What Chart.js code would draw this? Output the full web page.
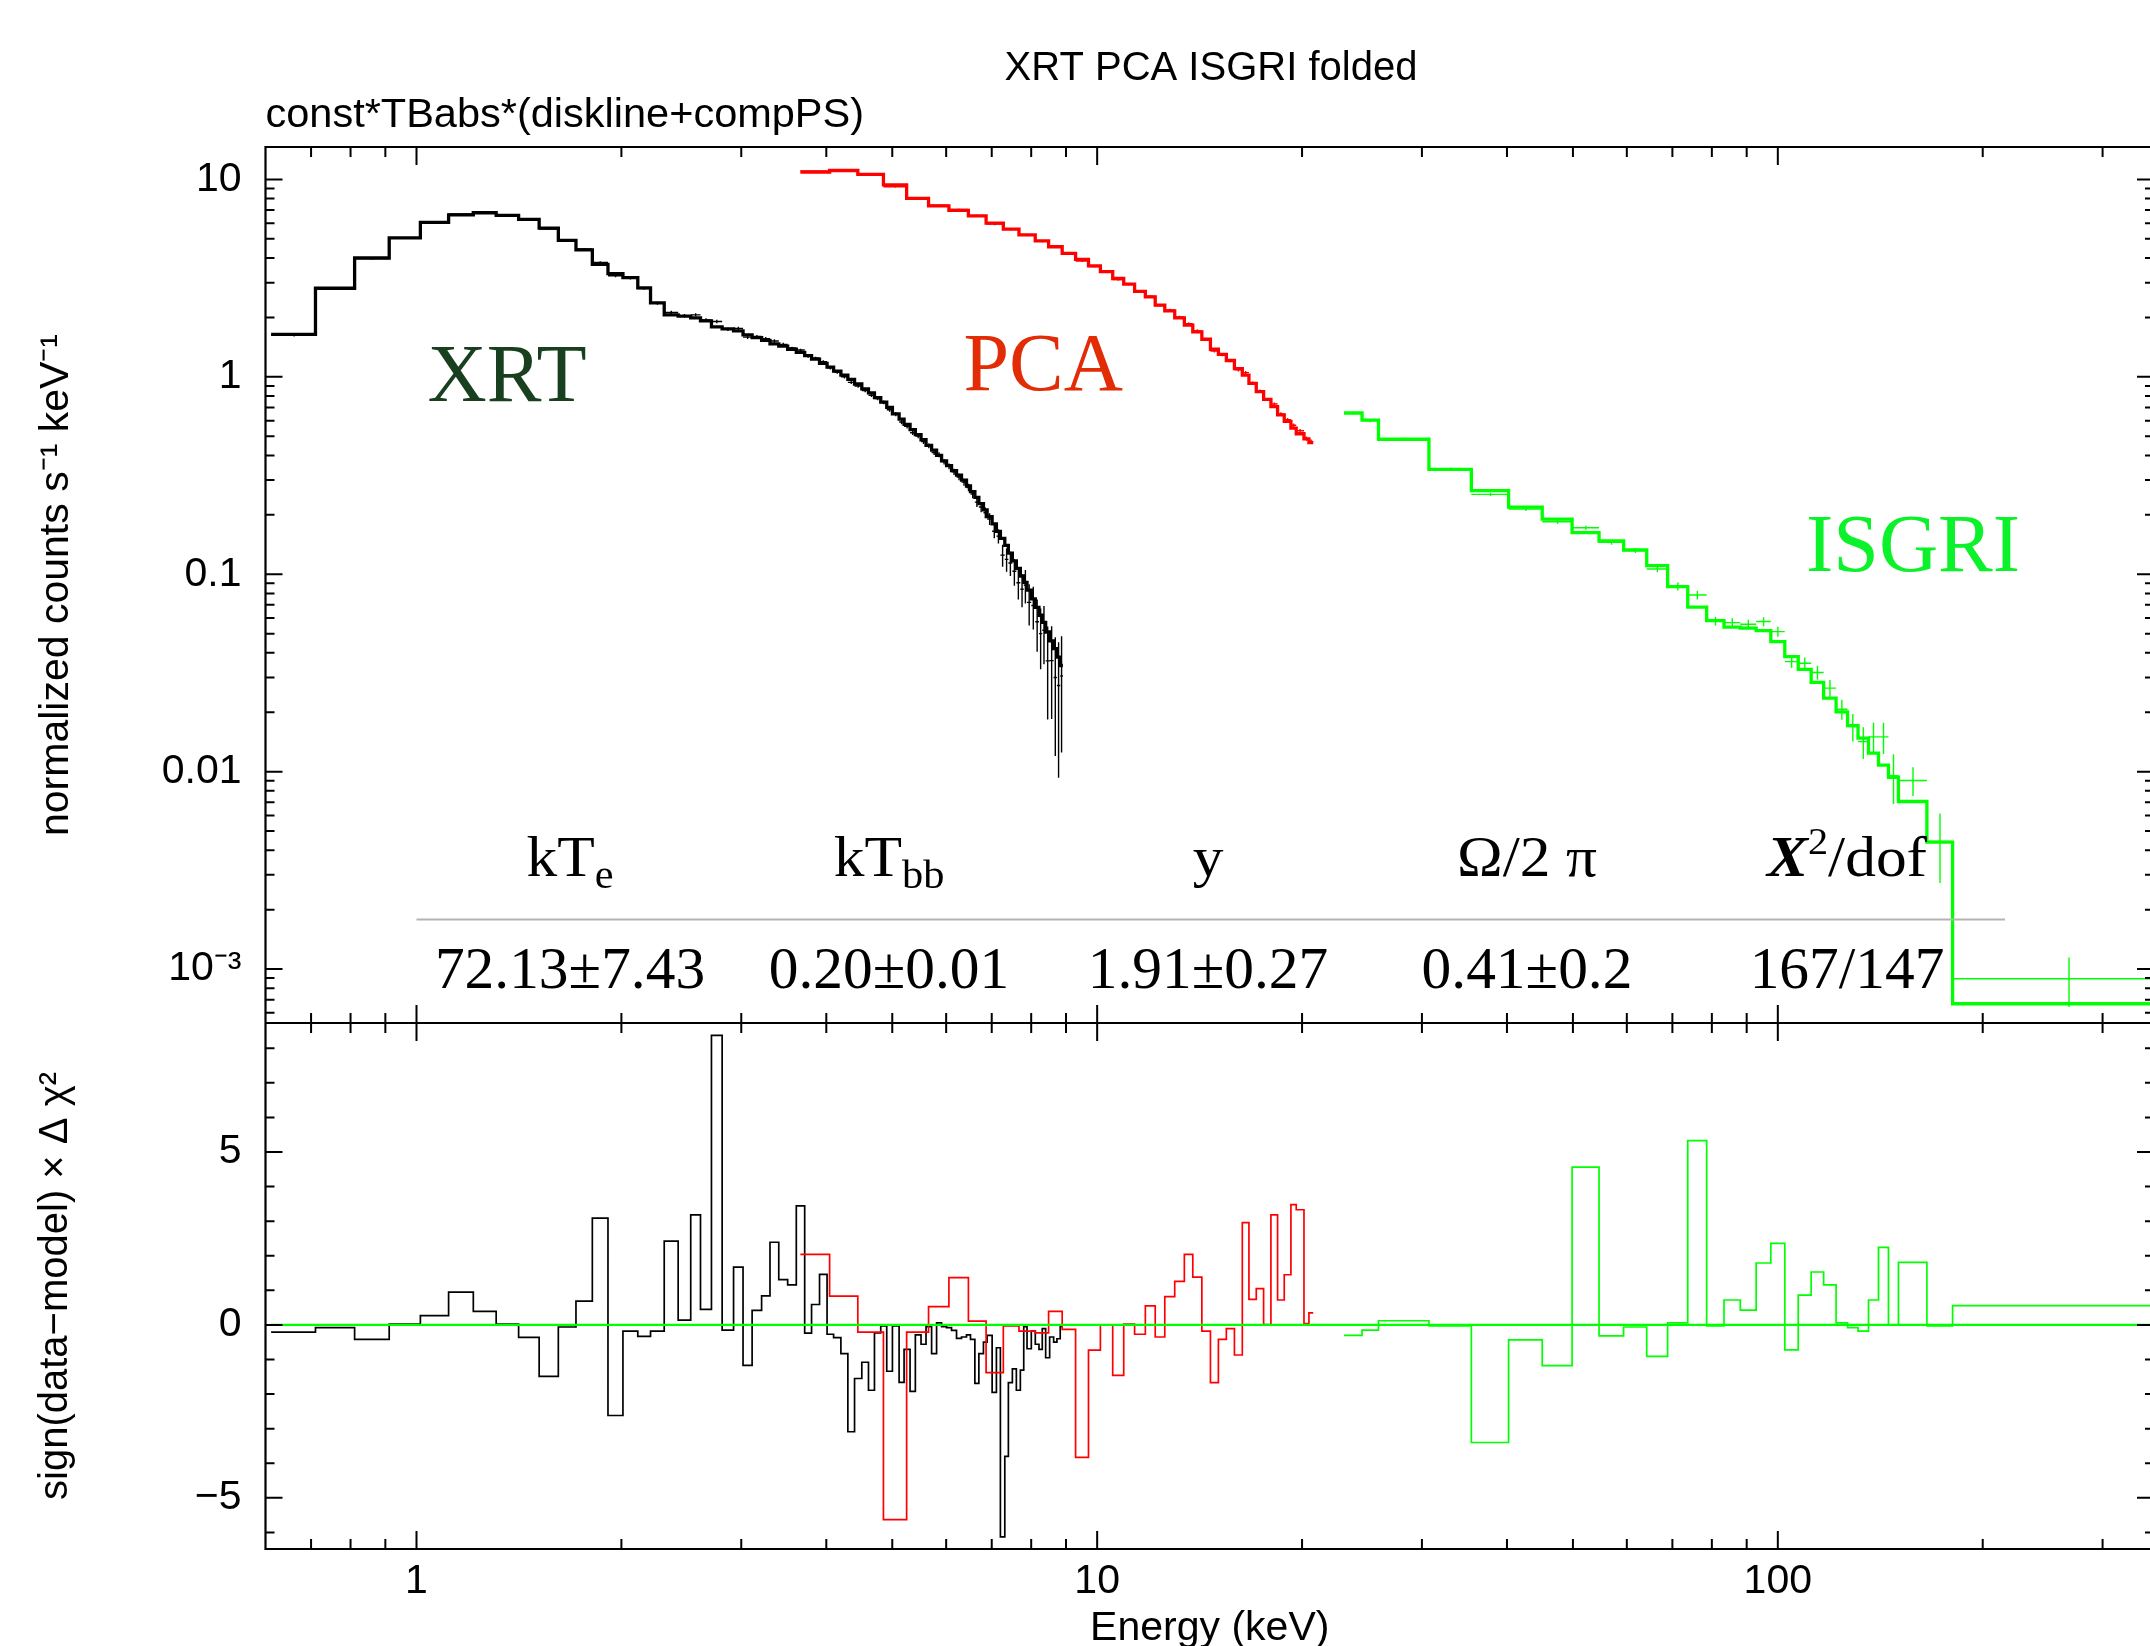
<!DOCTYPE html>
<html>
<head>
<meta charset="utf-8">
<script src="https://cdn.jsdelivr.net/npm/chart.js@4.4.1/dist/chart.umd.min.js"></script>
<style>
html,body{margin:0;padding:0;background:#fff;overflow:hidden;width:2150px;height:1646px;}
#wrap{position:absolute;left:0;top:0;width:2160px;height:1646px;}
canvas{display:block;}
</style>
</head>
<body>
<div id="wrap"><canvas id="c" width="2160" height="1646"></canvas></div>
<script>
// ---------------- DATA ----------------
const plotTitle = 'XRT PCA ISGRI folded';
const modelTitle = 'const*TBabs*(diskline+compPS)';
const xTitle = 'Energy (keV)';
const yTitleUpper = 'normalized counts s\u207B\u00B9 keV\u207B\u00B9';
const yTitleLower = 'sign(data\u2212model) \u00D7 \u0394 \u03C7\u00B2';
const instrumentNames = ['XRT', 'PCA', 'ISGRI'];

// XRT (Swift) bins, keV
const xrtEdges = [0.6115,0.7105,0.8111,0.9118,1.0132,1.1147,1.2119,1.3093,1.4126,1.5142,1.6157,1.7151,1.8127,1.9112,2.0104,2.1140,2.2071,2.3117,2.4234,2.5285,2.6136,2.7123,2.8120,2.9229,3.0181,3.1122,3.2137,3.3062,3.4058,3.5098,3.6140,3.7179,3.8054,3.9095,4.0104,4.1000,4.2024,4.3026,4.4010,4.5104,4.6135,4.7078,4.8089,4.9073,5.0026,5.1170,5.2039,5.3103,5.4061,5.5111,5.6048,5.7117,5.8088,5.9076,6.0081,6.1103,6.2142,6.3199,6.4274,6.5147,6.6121,6.7019,6.8068,6.8922,7.0094,7.1118,7.2084,7.3164,7.4057,7.5062,7.6082,7.7115,7.8004,7.8879,8.0030,8.1117,8.2135,8.3054,8.4011,8.5152,8.6308,8.7275,8.8252,8.9058];
const xrtModel = [1.64,2.81,4.00,5.06,6.06,6.62,6.78,6.57,6.27,5.67,4.91,4.40,3.71,3.33,3.18,2.82,2.37,2.06,2.03,1.99,1.92,1.79,1.75,1.71,1.63,1.58,1.53,1.47,1.43,
  1.38,1.33,1.28,1.23,1.17,1.12,1.07,1.02,0.97,0.92,0.87,0.83,0.785,0.745,0.70,0.65,0.61,0.575,0.54,0.51,0.48,0.45,0.425,0.40,0.375,0.355,0.335,0.318,0.300,0.280,0.262,
  0.245,0.228,0.212,0.196,0.180,0.165,0.152,0.140,0.128,0.117,0.107,0.098,0.091,0.083,0.075,0.068,0.062,0.057,0.051,0.046,0.042,0.038,0.0345];
const xrtData = [1.63,2.80,3.97,5.06,6.09,6.68,6.82,6.57,6.23,5.60,4.90,4.44,3.80,3.25,3.16,2.80,2.36,2.12,2.04,2.06,1.94,1.906,1.74,1.76,1.59,1.60,1.56,1.52,1.46,
  1.40,1.367,1.27,1.245,1.194,1.11,1.058,1.002,0.938,0.898,0.852,0.807,0.777,0.742,0.681,0.647,0.591,0.562,0.521,0.502,0.470,0.447,0.414,0.403,0.372,0.352,0.330,0.311,0.293,0.275,0.255,
  0.232,0.219,0.205,0.1905,0.165,0.156,0.125,0.119,0.114,0.1035,0.0905,0.084,0.088,0.072,0.0695,0.0575,0.050,0.052,0.0364,0.0365,0.030,0.0273,0.0305];
const xrtErr = [0.03,0.04,0.05,0.05,0.06,0.06,0.06,0.06,0.06,0.055,0.05,0.05,0.05,0.05,0.045,0.04,0.04,0.04,0.04,0.04,0.04,0.04,0.035,0.035,0.035,0.03,0.03,0.03,0.03,
  0.02,0.02,0.02,0.02,0.02,0.02,0.02,0.02,0.018,0.018,0.017,0.017,0.017,0.016,0.016,0.016,0.015,0.015,0.014,0.014,0.013,0.012,0.012,0.012,0.012,0.012,0.012,0.012,0.012,0.012,0.012,
  0.013,0.013,0.013,0.013,0.013,0.013,0.016,0.016,0.016,0.016,0.016,0.016,0.017,0.017,0.017,0.017,0.017,0.017,0.018,0.018,0.018,0.018,0.018];
const xrtResid = [-0.21,-0.08,-0.42,0.02,0.27,0.95,0.39,0.02,-0.36,-1.49,-0.06,0.69,3.09,-2.62,-0.18,-0.33,-0.18,2.42,0.14,3.18,0.45,8.37,-0.15,1.67,-1.17,0.42,0.84,2.39,1.31,
  1.16,3.44,-0.24,0.59,1.46,-0.27,-0.37,-0.83,-3.09,-1.55,-1.08,-1.89,-0.23,-0.03,-1.34,-0.03,-1.66,-0.71,-1.92,-0.29,-0.56,-0.05,-0.83,0.06,-0.05,-0.08,-0.16,-0.39,-0.35,-0.29,-0.42,
  -1.69,-0.83,-0.50,-0.30,-1.95,-0.66,-6.13,-3.80,-1.67,-1.27,-1.89,-1.31,-0.05,-0.69,-0.18,-0.56,-0.71,-0.11,-0.95,-0.35,-0.50,-0.40,-0.05];

// PCA (RXTE) bins, keV
const pcaEdges = [3.664,4.045,4.450,4.853,5.249,5.653,6.056,6.469,6.868,7.280,7.676,8.110,8.485,8.884,9.296,9.711,10.11,10.54,10.94,11.35,11.77,12.17,12.57,13.00,13.43,13.82,14.25,14.67,15.07,15.48,15.91,16.34,16.71,17.13,17.56,18.00,18.41,18.83,19.26,19.61,20.13,20.47,20.77];
const pcaModel = [10.9,11.1,10.6,9.39,8.01,7.35,6.97,6.54,6.01,5.60,5.24,4.89,4.56,4.22,3.94,3.65,3.41,3.15,2.95,2.71,2.54,2.31,2.16,1.99,1.83,1.69,1.55,1.38,1.30,1.21,1.10,1.02,0.927,0.841,0.769,0.706,0.641,0.595,0.55,0.515,0.485,0.465];
const pcaData = [11.04,11.19,10.55,9.18,7.97,7.40,7.05,6.56,5.94,5.59,5.22,4.87,4.59,4.21,3.86,3.62,3.41,3.11,2.95,2.70,2.56,2.30,2.18,2.01,1.86,1.71,1.54,1.35,1.29,1.205,1.085,1.05,0.935,0.852,0.769,0.729,0.649,0.607,0.569,0.533,0.486,0.469];
const pcaErr = [0.1,0.1,0.1,0.1,0.1,0.08,0.08,0.08,0.08,0.08,0.06,0.06,0.06,0.06,0.04,0.04,0.04,0.04,0.04,0.04,0.03,0.03,0.03,0.03,0.03,0.03,0.02,0.02,0.02,0.02,0.02,0.02,0.012,0.012,0.012,0.012,0.012,0.012,0.012,0.012,0.012,0.012];
const pcaResid = [2.04,0.83,-0.21,-5.63,-0.21,0.53,1.37,0.11,-1.38,-0.03,-0.18,-0.23,0.39,-0.13,-3.83,-0.73,-0.01,-1.46,0.02,-0.27,0.55,-0.35,0.82,1.26,2.04,1.38,-0.18,-1.67,-0.42,-0.11,-0.87,2.96,0.74,1.05,0.01,3.18,0.72,1.45,3.48,3.33,0.04,0.35];

// ISGRI (INTEGRAL) bins, keV
const isgriEdges = [23.05,24.50,25.90,30.72,35.46,40.22,45.07,49.86,54.62,59.35,64.18,68.88,73.73,78.61,83.36,88.08,92.93,97.66,102.39,107.15,111.94,116.77,121.79,126.60,131.17,135.90,140.57,145.40,150.39,165.58,180.62,355];
const isgriModel = [0.656,0.604,0.483,0.340,0.265,0.219,0.190,0.1624,0.1474,0.1327,0.1105,0.0866,0.0681,0.0582,0.0540,0.0533,0.0518,0.0456,0.0383,0.0330,0.0283,0.0236,0.0201,0.0171,0.0148,0.0124,0.0108,0.00937,0.00706,0.00440,0.000667];
const isgriData = [0.656,0.600,0.485,0.342,0.254,0.214,0.1846,0.172,0.145,0.132,0.1064,0.0868,0.0785,0.058,0.0569,0.0558,0.0576,0.0512,0.0361,0.0354,0.0318,0.0265,0.0207,0.0169,0.0142,0.0150,0.0150,0.00955,0.00902,0.00443,0.000893];
const isgriErr = [0.012,0.012,0.006,0.005,0.005,0.005,0.005,0.004,0.004,0.004,0.004,0.004,0.004,0.003,0.003,0.003,0.003,0.003,0.0025,0.0025,0.0026,0.0026,0.0024,0.0027,0.0026,0.0027,0.0027,0.0027,0.0015,0.0017,0.00025];
const isgriResid = [-0.30,-0.15,0.12,-0.03,-3.40,-0.43,-1.18,4.56,-0.32,-0.06,-0.91,0.06,5.33,-0.03,0.72,0.43,1.79,2.36,-0.72,0.86,1.53,1.16,0.06,-0.08,-0.18,0.72,2.24,0.0,1.81,-0.03,0.56];

const residualZero = 0;

// Axis ranges and ticks
const xMin = 0.6115, xMax = 357;
const yMin = 5.33e-4, yMax = 14.6;
const rMin = -6.48, rMax = 8.73;
const xMajorTicks = [1, 10, 100];
const xMajorLabels = ['1', '10', '100'];
const xMinorTicks = [0.7,0.8,0.9,2,3,4,5,6,7,8,9,20,30,40,50,60,70,80,90,200,300];
const yMajorTicks = [0.001, 0.01, 0.1, 1, 10];
const yMajorLabels = ['10\u207B\u00B3', '0.01', '0.1', '1', '10'];
const yMinorTicks = [6e-4,7e-4,8e-4,9e-4,2e-3,3e-3,4e-3,5e-3,6e-3,7e-3,8e-3,9e-3,0.02,0.03,0.04,0.05,0.06,0.07,0.08,0.09,0.2,0.3,0.4,0.5,0.6,0.7,0.8,0.9,2,3,4,5,6,7,8,9];
const rMajorTicks = [-5, 0, 5];
const rMajorLabels = ['\u22125', '0', '5'];
const rMinorTicks = [-6,-4,-3,-2,-1,1,2,3,4,6,7,8];

// Fit-parameter table
const headerMain = ['kT', 'kT', 'y', '\u03A9/2 \u03C0', 'X'];
const headerSub  = ['e', 'bb', '', '', ''];
const headerSup  = ['', '', '', '', '2'];
const headerTail = ['', '', '', '', '/dof'];
const paramValues = ['72.13\u00B17.43', '0.20\u00B10.01', '1.91\u00B10.27', '0.41\u00B10.2', '167/147'];

// ---------------- LAYOUT / STYLE ----------------
const SANS = "'Liberation Sans', Arial, Helvetica, sans-serif";
const SERIF = "'Liberation Serif', 'Times New Roman', serif";
const COL_XRT = '#000000', COL_PCA = '#ff0000', COL_ISGRI = '#00ff00';
const labelColors = ['#183f1e', '#e22c06', '#0cf22a'];
const labelPos = [[1.038, 0.754], [6.36, 0.857], [110.0, 0.1039]];
const tableCols = [570, 889, 1208, 1527, 1847];

function steps(edges, vals) {
  const pts = [];
  for (let i = 0; i < vals.length; i++) {
    pts.push({x: edges[i], y: vals[i]});
    pts.push({x: edges[i + 1], y: vals[i]});
  }
  return pts;
}
function labelFor(v, ticks, labels) {
  for (let i = 0; i < ticks.length; i++) {
    if (Math.abs(v - ticks[i]) <= Math.abs(ticks[i]) * 1e-6 + 1e-12) return labels[i];
  }
  return '';
}

const lineDs = (label, data, color, width, axis, order) => ({
  label, data, borderColor: color, backgroundColor: color, borderWidth: width,
  showLine: true, pointRadius: 0, tension: 0, yAxisID: axis, order,
  borderJoinStyle: 'miter', fill: false
});

const crossesPlugin = {
  id: 'crosses',
  afterDatasetsDraw(chart) {
    const ctx = chart.ctx, xs = chart.scales.x, ys = chart.scales.y;
    const ca = chart.chartArea;
    ctx.save();
    ctx.beginPath();
    ctx.rect(ca.left, ys.top, ca.right - ca.left, ys.bottom - ys.top);
    ctx.clip();
    const sets = [[xrtEdges, xrtData, xrtErr, COL_XRT], [pcaEdges, pcaData, pcaErr, COL_PCA], [isgriEdges, isgriData, isgriErr, COL_ISGRI]];
    for (const [edges, data, err, col] of sets) {
      ctx.strokeStyle = col;
      ctx.lineWidth = 1.4;
      ctx.beginPath();
      for (let i = 0; i < data.length; i++) {
        const x0 = xs.getPixelForValue(edges[i]);
        const x1 = xs.getPixelForValue(edges[i + 1]);
        const xc = xs.getPixelForValue((edges[i] + edges[i + 1]) / 2);
        const yv = ys.getPixelForValue(data[i]);
        ctx.moveTo(x0, yv); ctx.lineTo(x1, yv);
        const lo = Math.max(data[i] - err[i], yMin * 0.5);
        ctx.moveTo(xc, ys.getPixelForValue(data[i] + err[i]));
        ctx.lineTo(xc, ys.getPixelForValue(lo));
      }
      ctx.stroke();
    }
    ctx.restore();
  }
};

const framePlugin = {
  id: 'frame',
  afterDatasetsDraw(chart) {
    const ctx = chart.ctx, xs = chart.scales.x, ys = chart.scales.y, rs = chart.scales.yr;
    const L = chart.chartArea.left, R = chart.chartArea.right;
    ctx.save();
    ctx.strokeStyle = '#000';
    ctx.lineWidth = 2.2;
    ctx.lineCap = 'butt';
    ctx.beginPath();
    ctx.rect(L, ys.top, R - L, ys.bottom - ys.top);
    ctx.rect(L, rs.top, R - L, rs.bottom - rs.top);
    ctx.stroke();
    ctx.lineWidth = 2;
    ctx.beginPath();
    const xt = (v, len) => {
      const p = xs.getPixelForValue(v);
      ctx.moveTo(p, ys.top); ctx.lineTo(p, ys.top + len);
      ctx.moveTo(p, ys.bottom); ctx.lineTo(p, ys.bottom - len);
      ctx.moveTo(p, rs.top); ctx.lineTo(p, rs.top + len);
      ctx.moveTo(p, rs.bottom); ctx.lineTo(p, rs.bottom - len);
    };
    xMajorTicks.forEach(v => xt(v, 18));
    xMinorTicks.forEach(v => xt(v, 10));
    const yt = (sc, v, len) => {
      const p = sc.getPixelForValue(v);
      ctx.moveTo(L, p); ctx.lineTo(L + len, p);
      ctx.moveTo(R, p); ctx.lineTo(R - len, p);
    };
    yMajorTicks.forEach(v => yt(ys, v, 17));
    yMinorTicks.forEach(v => yt(ys, v, 9));
    rMajorTicks.forEach(v => yt(rs, v, 17));
    rMinorTicks.forEach(v => yt(rs, v, 9));
    ctx.stroke();
    ctx.restore();
  }
};

function drawRich(ctx, segs, cx, baseline, sx) {
  let total = 0;
  for (const s of segs) { ctx.font = s.font; s.w = ctx.measureText(s.text).width; total += s.w; }
  ctx.save();
  ctx.translate(cx, baseline);
  ctx.scale(sx, 1);
  ctx.textAlign = 'left';
  ctx.textBaseline = 'alphabetic';
  let x = -total / 2;
  for (const s of segs) { ctx.font = s.font; ctx.fillText(s.text, x, s.dy); x += s.w; }
  ctx.restore();
}

const textPlugin = {
  id: 'texts',
  afterDraw(chart) {
    const ctx = chart.ctx, ca = chart.chartArea, xs = chart.scales.x, ys = chart.scales.y;
    ctx.save();
    ctx.fillStyle = '#000';
    ctx.textBaseline = 'alphabetic';
    ctx.font = '40px ' + SANS;
    ctx.textAlign = 'center';
    ctx.fillText(plotTitle, 1211, 80);
    ctx.font = '41.5px ' + SANS;
    ctx.textAlign = 'left';
    ctx.fillText(modelTitle, ca.left, 127);

    // instrument labels
    ctx.font = '82px ' + SERIF;
    for (let i = 0; i < instrumentNames.length; i++) {
      ctx.fillStyle = labelColors[i];
      ctx.fillText(instrumentNames[i], xs.getPixelForValue(labelPos[i][0]), ys.getPixelForValue(labelPos[i][1]));
    }

    // table
    ctx.strokeStyle = '#b4b4b4';
    ctx.lineWidth = 2;
    ctx.beginPath();
    ctx.moveTo(xs.getPixelForValue(1), 919.5);
    ctx.lineTo(2005, 919.5);
    ctx.stroke();
    ctx.fillStyle = '#000';
    for (let i = 0; i < headerMain.length; i++) {
      const segs = [];
      const mainFont = (headerSup[i] ? 'italic bold ' : '') + '58px ' + SERIF;
      segs.push({text: headerMain[i], font: mainFont, dy: 0});
      if (headerSub[i]) segs.push({text: headerSub[i], font: '40px ' + SERIF, dy: 12});
      if (headerSup[i]) segs.push({text: headerSup[i], font: '38px ' + SERIF, dy: -22});
      if (headerTail[i]) segs.push({text: headerTail[i], font: '58px ' + SERIF, dy: 0});
      drawRich(ctx, segs, tableCols[i], 876, 1.06);
      drawRich(ctx, [{text: paramValues[i], font: '60px ' + SERIF, dy: 0}], tableCols[i], 988, 0.99);
    }
    ctx.restore();
  }
};

const cfg = {
  type: 'scatter',
  data: {
    datasets: [
      lineDs('XRT model', steps(xrtEdges, xrtModel), COL_XRT, 3.3, 'y', 5),
      lineDs('PCA model', steps(pcaEdges, pcaModel), COL_PCA, 3.3, 'y', 5),
      lineDs('ISGRI model', steps(isgriEdges, isgriModel), COL_ISGRI, 3.3, 'y', 5),
      lineDs('XRT residual', steps(xrtEdges, xrtResid), COL_XRT, 1.7, 'yr', 4),
      lineDs('PCA residual', steps(pcaEdges, pcaResid), COL_PCA, 1.7, 'yr', 3),
      lineDs('ISGRI residual', steps(isgriEdges, isgriResid), COL_ISGRI, 1.7, 'yr', 2),
      lineDs('zero', [{x: xMin, y: residualZero}, {x: xMax, y: residualZero}], COL_ISGRI, 2.4, 'yr', 1)
    ]
  },
  options: {
    responsive: false,
    devicePixelRatio: 1,
    animation: false,
    events: [],
    layout: {padding: {top: 147, right: 6, bottom: 0, left: 0}},
    plugins: {legend: {display: false}, tooltip: {enabled: false}, title: {display: false}},
    scales: {
      x: {
        type: 'logarithmic', position: 'bottom', min: xMin, max: xMax,
        afterBuildTicks: s => { s.ticks = xMajorTicks.map(v => ({value: v})); },
        afterFit: s => { s.height = 97; },
        grid: {display: false, drawTicks: false}, border: {display: false},
        ticks: {autoSkip: false, maxRotation: 0, padding: 8, color: '#000', font: {family: SANS, size: 41},
          callback: v => labelFor(v, xMajorTicks, xMajorLabels)},
        title: {display: true, text: xTitle, color: '#000', font: {family: SANS, size: 41}, padding: {top: 0, bottom: -7}}
      },
      yr: {
        type: 'linear', position: 'left', stack: 'panels', stackWeight: 526, weight: 0,
        min: rMin, max: rMax,
        afterBuildTicks: s => { s.ticks = rMajorTicks.map(v => ({value: v})); },
        afterFit: s => { s.width = 265.5; },
        grid: {display: false, drawTicks: false}, border: {display: false},
        ticks: {autoSkip: false, padding: 24, color: '#000', font: {family: SANS, size: 41},
          callback: v => labelFor(v, rMajorTicks, rMajorLabels)},
        title: {display: true, text: yTitleLower, color: '#000', font: {family: SANS, size: 40}, padding: {top: 32, bottom: 0}}
      },
      y: {
        type: 'logarithmic', position: 'left', stack: 'panels', stackWeight: 876, weight: 1,
        min: yMin, max: yMax,
        afterBuildTicks: s => { s.ticks = yMajorTicks.map(v => ({value: v})); },
        afterFit: s => { s.width = 265.5; },
        grid: {display: false, drawTicks: false}, border: {display: false},
        ticks: {autoSkip: false, padding: 24, color: '#000', font: {family: SANS, size: 41},
          callback: v => labelFor(v, yMajorTicks, yMajorLabels)},
        title: {display: true, text: yTitleUpper, color: '#000', font: {family: SANS, size: 41}, padding: {top: 32, bottom: 0}}
      }
    }
  },
  plugins: [crossesPlugin, framePlugin, textPlugin]
};

new Chart(document.getElementById('c'), cfg);
</script>
</body>
</html>
